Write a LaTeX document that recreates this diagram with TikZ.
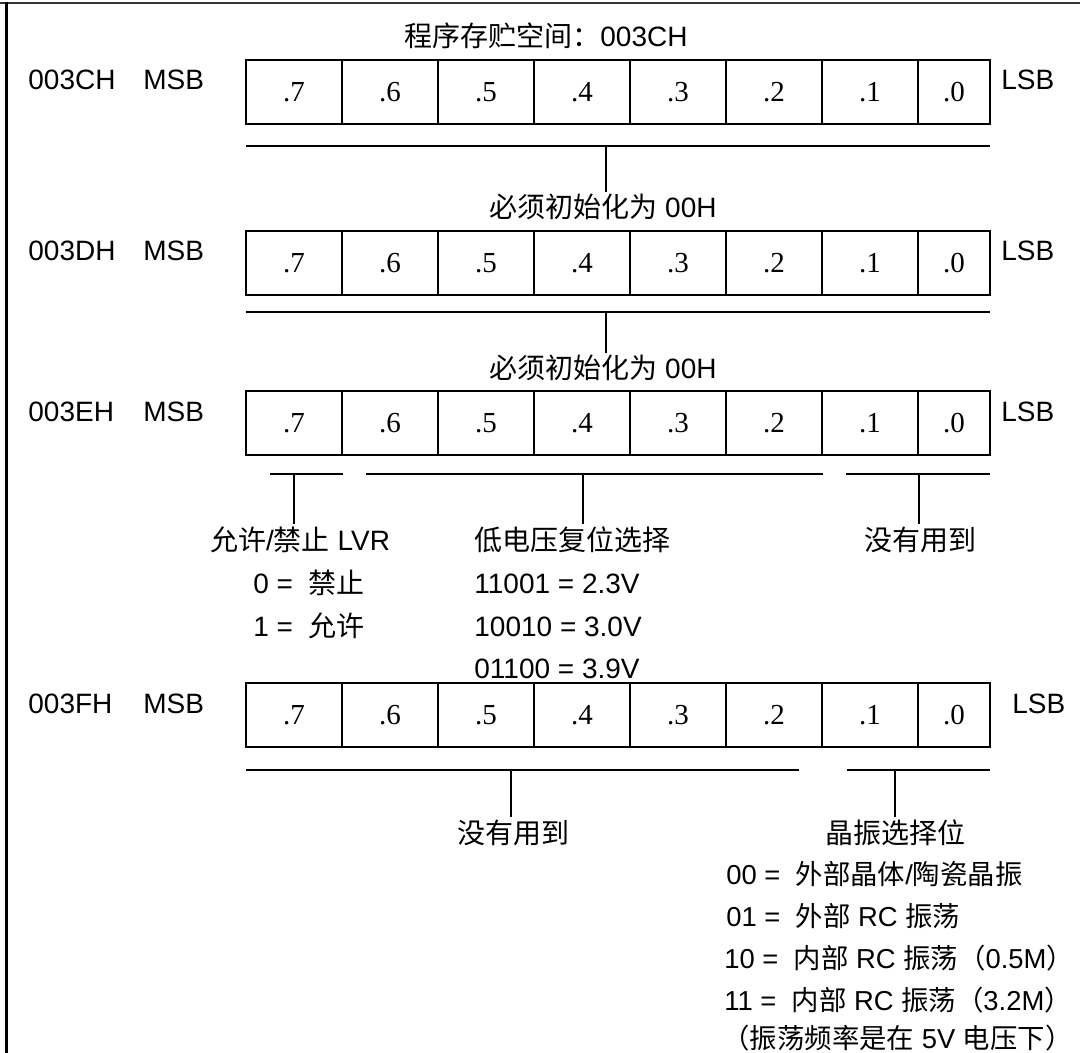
\documentclass[tikz,border=0pt]{standalone}
\usepackage{fontspec}
\setmainfont{Liberation Sans}
\newfontfamily\cjk{Noto Sans CJK SC}
\newfontfamily\cellfont{Liberation Serif}
\usetikzlibrary{chains, positioning}

\begin{document}
\begin{tikzpicture}[
    x = 0.5pt, y = -0.5pt,
    node distance = 0pt,
    every node/.style = {font=\fontsize{14pt}{17pt}\selectfont, inner sep=0pt},
    cell/.style = {
        draw, line width=1pt, rectangle, minimum width=48pt, minimum height=32pt,
        outer sep=0pt, font=\fontsize{14.5pt}{17pt}\cellfont
    },
    cell0/.style = {cell, minimum width=36pt},
    txt/.style = {anchor=base west},
    osctxt/.style = {txt, font=\fontsize{13.7pt}{17pt}\selectfont},
    lbl/.style = {anchor=base, text height=12pt, text depth=3pt, inner sep=1pt},
    brk/.style = {line width=0.8pt}
  ]
    \useasboundingbox (0,0) rectangle (1080,1053);
    \draw[line width=1pt, black!80] (0,3) -- (1080,3);  % 外框
    \draw[line width=1.5pt] (6,1053) -- (6,2);

    % 四个配置字
    \foreach \r/\y/\addr/\lx in {1/60/003CH/1001, 2/231/003DH/1001, 3/391/003EH/1001, 4/683/003FH/1012} {
        \begin{scope}[start chain = going right]
            \node[cell, on chain, anchor=north west] (c\r-7) at (246,\y) {.7};
            \foreach \b in {6,...,1}
                \node[cell, on chain] (c\r-\b) {.\b};
            \node[cell0, on chain] (c\r-0) {.0};
        \end{scope}
        \node[txt] (addr\r) at (28,\y+30) {\addr};
        \node[txt] (msb\r) at (143,\y+30) {MSB};
        \node[txt] (lsb\r) at (\lx,\y+30) {LSB};
    }

    \node[lbl] (title) at (546,47) {{\cjk 程序存贮空间：}003CH};

    % 003CH / 003DH
    \coordinate (k1) at (606,146);
    \coordinate (k2) at (606,312);
    \draw[brk] (c1-7.south west |- k1) -- (c1-0.south east |- k1);
    \draw[brk] (c2-7.south west |- k2) -- (c2-0.south east |- k2);
    \node[lbl] (init1) at (603,218) {{\cjk 必须初始化为} 00H};
    \node[lbl] (init2) at (603,379) {{\cjk 必须初始化为} 00H};
    \draw[brk] (k1) -- (k1 |- init1.north);
    \draw[brk] (k2) -- (k2 |- init2.north);

    % 003EH
    \draw[brk] (270,474) -- (343,474)  (366,474) -- (823,474)  (846,474) -- (990,474);
    \coordinate (k31) at (294,474);
    \coordinate (k32) at (583,474);
    \coordinate (k33) at (919,474);
    \node[lbl] (lvr) at (300,550) {{\cjk 允许}/{\cjk 禁止} LVR};
    \node[lbl] (lvd) at (572,550) {\cjk 低电压复位选择};
    \node[lbl] (nu3) at (920,550) {\cjk 没有用到};
    \draw[brk] (k31) -- (k31 |- lvr.north);
    \draw[brk] (k32) -- (k32 |- lvd.north);
    \draw[brk] (k33) -- (k33 |- nu3.north);
    \node[txt] (lvr0) at (253,593) {0 = \ {\cjk 禁止}};
    \node[txt] (lvr1) at (253,636) {1 = \ {\cjk 允许}};
    \node[txt] (lvd1) at (474,593) {11001 = 2.3V};
    \node[txt] (lvd2) at (474,636) {10010 = 3.0V};
    \node[txt] (lvd3) at (474,678) {01100 = 3.9V};

    % 003FH
    \draw[brk] (246,770) -- (799,770)  (847,770) -- (990,770);
    \coordinate (k41) at (511,770);
    \coordinate (k42) at (895,770);
    \node[lbl] (nu4) at (513,843) {\cjk 没有用到};
    \node[lbl] (osc) at (895,843) {\cjk 晶振选择位};
    \draw[brk] (k41) -- (k41 |- nu4.north);
    \draw[brk] (k42) -- (k42 |- osc.north);
    \node[osctxt] (osc0) at (726,884) {00 = \ {\cjk 外部晶体}/{\cjk 陶瓷晶振}};
    \node[osctxt] (osc1) at (726,926) {01 = \ {\cjk 外部} RC {\cjk 振荡}};
    \node[osctxt] (osc2) at (724,968) {10 = \ {\cjk 内部} RC {\cjk 振荡（}0.5M{\cjk ）}};
    \node[osctxt] (osc3) at (724,1010) {11 = \ {\cjk 内部} RC {\cjk 振荡（}3.2M{\cjk ）}};
    \node[osctxt] (note) at (722,1048) {{\cjk （振荡频率是在} 5V {\cjk 电压下）}};
\end{tikzpicture}
\end{document}
